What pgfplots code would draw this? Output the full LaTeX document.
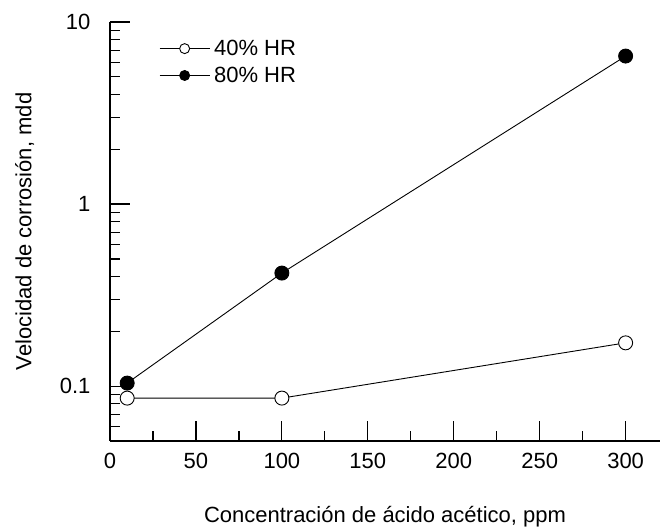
\documentclass[border=0pt]{standalone}
\usepackage{fontspec}
\setmainfont{Liberation Sans}
\usepackage{pgfplots}
\pgfplotsset{compat=1.18}

\begin{document}
\begin{tikzpicture}[font=\fontsize{22}{26}\selectfont]
\begin{axis}[
  scale only axis,
  width=550pt, height=419pt,
  ymode=log,
  xmin=0, xmax=320,
  ymin=0.05, ymax=10,
  axis lines=left,
  axis line style={-, line width=1.2pt},
  tick align=inside,
  major tick style={black, line width=1.2pt},
  minor tick style={black, line width=1.2pt},
  major tick length=20pt,
  minor tick length=10pt,
  xtick={0,50,...,300},
  minor xtick={25,75,...,275},
  ytick={0.1,1,10},
  yticklabels={0.1,1,10},
  minor ytick={0.05,0.06,0.07,0.08,0.09,0.2,0.3,0.4,0.5,0.6,0.7,0.8,0.9,2,3,4,5,6,7,8,9},
  /pgf/number format/assume math mode=true,
  xticklabel style={yshift=-9pt},
  yticklabel style={xshift=-16pt},
  xlabel={Concentración de ácido acético, ppm},
  ylabel={Velocidad de corrosión, mdd},
  xlabel style={at={(axis description cs:0.5,0)}, anchor=center, yshift=-76pt},
  ylabel style={at={(axis description cs:-0.155,0.5)}, anchor=center},
  legend style={draw=none, fill=none, at={(axis description cs:0,1)}, anchor=north west,
    xshift=46pt, yshift=-14pt, row sep=6pt, font=\fontsize{22}{26}\selectfont,
    nodes={inner xsep=4pt, inner ysep=2pt}},
  legend cell align=left,
  legend image code/.code={
    \draw[mark repeat=2, mark phase=2, mark size=5pt] plot coordinates {(0pt,0pt) (25pt,0pt) (50pt,0pt)};
  },
]
\addplot[black, line width=0.9pt, mark=*, mark size=7pt, mark options={fill=white, line width=0.9pt}]
  coordinates {(10,0.086) (100,0.086) (300,0.173)};
\addlegendentry{40\% HR}
\addplot[black, line width=0.9pt, mark=*, mark size=7pt, mark options={fill=black}]
  coordinates {(10,0.104) (100,0.418) (300,6.5)};
\addlegendentry{80\% HR}
\end{axis}
\path (current axis.south west) ++(-110pt,-91pt) rectangle ++(662pt,532pt);
\end{tikzpicture}
\end{document}
